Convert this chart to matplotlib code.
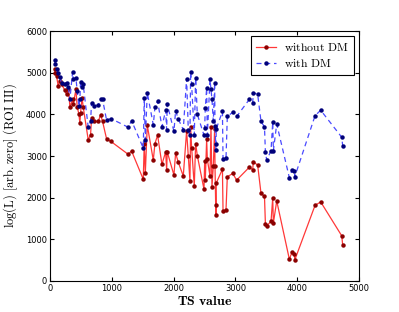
import numpy as np
import matplotlib
matplotlib.use("Agg")
from matplotlib import pyplot as plt

plt.rcParams['mathtext.fontset'] = 'cm'

ts = [75, 90, 108, 135, 160, 189, 243, 270, 300, 324, 367, 378, 421, 442, 470, 485,
      496, 520, 539, 620, 658, 674, 712, 782, 820, 852, 917, 987, 1267, 1321,
      1510, 1526, 1543, 1575, 1672, 1699, 1742, 1812, 1872, 1888, 1898, 2006, 2033,
      2076, 2157, 2211, 2238, 2265, 2276, 2292, 2335, 2357, 2384, 2492, 2503, 2513,
      2535, 2546, 2589, 2605, 2621, 2643, 2664, 2670, 2681, 2686, 2690, 2790, 2800,
      2848, 2869, 2956, 3020, 3225, 3279, 3290, 3360, 3414, 3470, 3485, 3506, 3576,
      3603, 3614, 3668, 3872, 3916, 3954, 3960, 4288, 4379, 4720, 4735]

without_dm = [5100, 5000, 4920, 4680, 4800, 4720, 4580, 4480, 4600, 4180, 4360, 4240,
              4600, 4180, 4000, 3790, 4030, 4400, 4180, 3390, 3510, 3910, 3830, 3830,
              3990, 3830, 3410, 3350, 3040, 3120, 2440, 3300, 2580, 3740, 2900, 3300,
              3500, 2800, 3100, 2660, 3100, 2540, 3070, 2850, 2520, 3600, 3000, 2400,
              3700, 3200, 2280, 3300, 3010, 2200, 2880, 2420, 3400, 2920, 2520, 3700,
              2260, 2770, 3650, 2760, 1830, 1570, 2350, 2680, 1670, 1710, 2500, 2580,
              2420, 2730, 2670, 2860, 2780, 2100, 2030, 1370, 1320, 1430, 1990, 1390,
              1920, 520, 690, 650, 500, 1815, 1896, 1080, 850]

with_dm = [5300, 5200, 5080, 5000, 4900, 4760, 4720, 4760, 4650, 4360, 5020, 4860,
           4880, 4560, 4200, 4360, 4780, 4650, 4720, 3690, 3830, 4280, 4210, 4220,
           4380, 4360, 3860, 3900, 3690, 3850, 3190, 4400, 3390, 4520, 3750, 4170,
           4320, 3700, 4100, 3630, 4250, 3590, 4090, 3890, 3630, 4860, 3630, 3500,
           5020, 4720, 3500, 4880, 4000, 3500, 3670, 4150, 4640, 3500, 4840, 4600,
           4360, 3830, 4760, 3710, 3300, 3150, 3650, 4070, 2920, 2944, 3950, 4050,
           3950, 4360, 4280, 4520, 4480, 3830, 3700, 3100, 2900, 3130, 3810, 3130,
           3770, 2480, 2660, 2650, 2500, 3970, 4100, 3450, 3240]

fig = plt.figure(figsize=(3.99, 3.12), dpi=100)
ax = fig.add_axes([0.125, 0.1, 0.775, 0.8])

ax.plot(ts, without_dm, '-', color='#ff3838', lw=0.9, marker='o', ms=2.2,
        mfc='#8b0000', mec='#8b0000', label=r'$\mathrm{without\ DM}$')
ax.plot(ts, with_dm, '--', color='#4a4aff', lw=0.9, dashes=(4, 3), marker='o', ms=2.2,
        mfc='#00007a', mec='#00007a', label=r'$\mathrm{with\ DM}$')

ax.set_xlim(0, 5000)
ax.set_ylim(0, 6000)
ax.set_xticks(np.arange(0, 5001, 1000))
ax.set_yticks(np.arange(0, 6001, 1000))
ax.tick_params(direction='in', top=True, right=True, labelsize=6, length=3, pad=2)

ax.set_xlabel(r'$\mathbf{TS\ value}$', fontsize=10, labelpad=1)
ax.set_ylabel(r'$\log(\mathrm{L})\ [\mathrm{arb.zero}]\ (\mathrm{ROI\ III})$', fontsize=9, labelpad=4)

leg = ax.legend(loc='upper right', fontsize=8.5, fancybox=False, framealpha=1,
                edgecolor='black', handlelength=1.7, handletextpad=0.7,
                labelspacing=0.25, borderpad=0.45, borderaxespad=0.4)
leg.get_frame().set_linewidth(0.8)

fig.savefig('out.png', dpi=100)
